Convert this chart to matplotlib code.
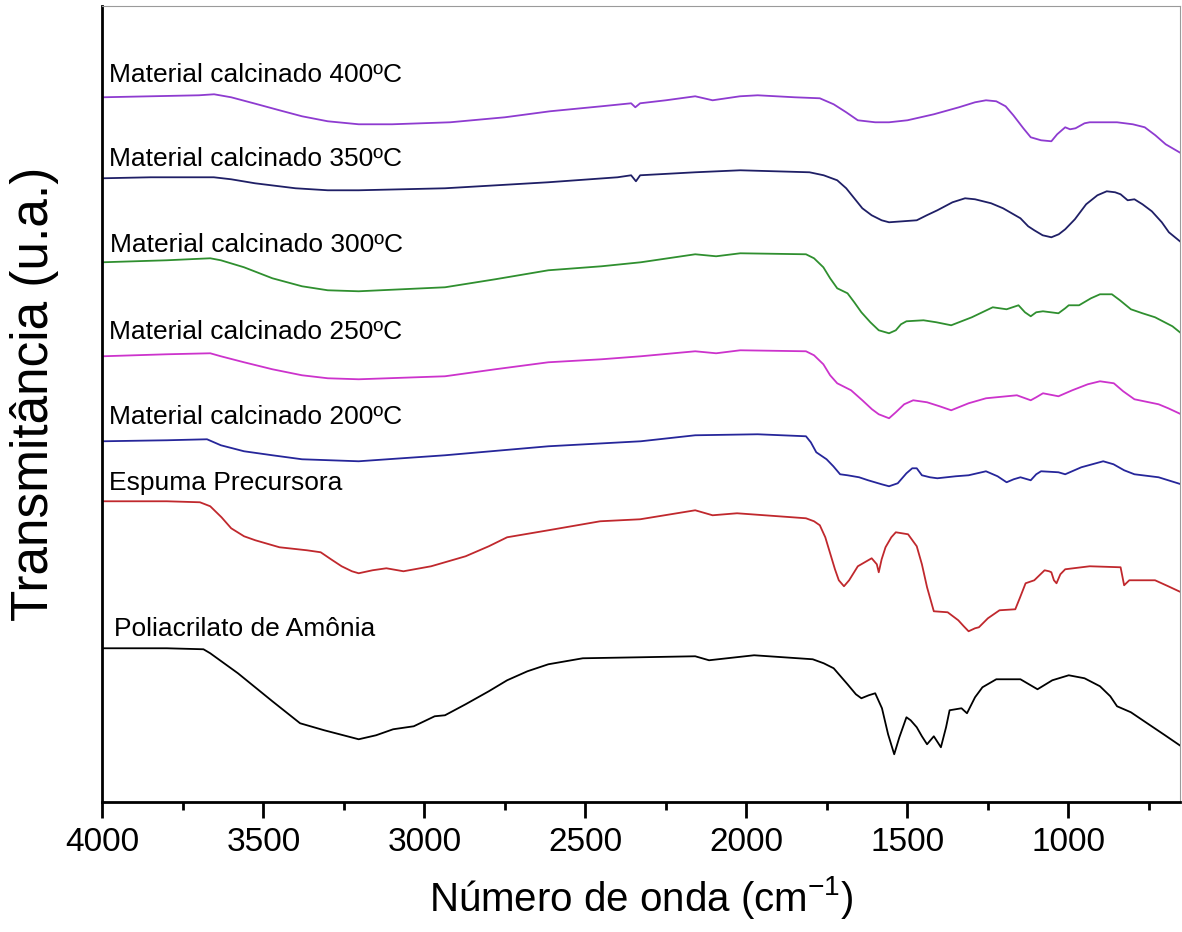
import matplotlib
matplotlib.use("Agg")
import matplotlib.pyplot as plt
from matplotlib.ticker import MultipleLocator

plt.rcParams['font.family'] = ['Liberation Sans', 'DejaVu Sans']
plt.rcParams['mathtext.fontset'] = 'custom'
plt.rcParams['mathtext.rm'] = 'Liberation Sans'
plt.rcParams['mathtext.it'] = 'Liberation Sans:italic'
plt.rcParams['mathtext.bf'] = 'Liberation Sans:bold'

# FTIR spectra, offset vertically (arbitrary transmittance units)
wn_400 = [4000, 3850, 3700, 3653, 3600, 3530, 3450, 3380, 3300, 3204, 3100, 2920, 2750, 2610,
          2450, 2358, 2345, 2330, 2250, 2159, 2105, 2020, 1965, 1850, 1772, 1729, 1690, 1654,
          1600, 1557, 1500, 1418, 1340, 1290, 1256, 1224, 1195, 1171, 1140, 1117, 1085, 1053,
          1035, 1010, 995, 978, 950, 934, 849, 800, 763, 730, 698, 650]
t_400 = [705, 706, 707, 708, 705, 699, 692, 686, 681, 678, 678, 680, 685, 691,
         696, 699, 695, 699, 702, 706, 702, 706, 707, 705, 704, 698, 690, 682,
         680, 680, 682, 688, 695, 700, 702, 701, 696, 687, 674, 665, 662, 661,
         668, 675, 673, 674, 679, 680, 680, 678, 675, 667, 658, 649]

wn_350 = [4000, 3850, 3654, 3600, 3526, 3400, 3300, 3204, 2936, 2616, 2400, 2358, 2343, 2330,
          2159, 2019, 1804, 1760, 1718, 1690, 1665, 1640, 1611, 1580, 1557, 1471, 1440, 1407,
          1360, 1321, 1290, 1240, 1203, 1149, 1125, 1106, 1080, 1053, 1030, 1010, 980, 945,
          910, 881, 855, 838, 816, 795, 770, 741, 710, 688, 650]
t_350 = [624, 625, 625, 623, 619, 614, 612, 612, 614, 620, 625, 627, 621, 627,
         630, 632, 630, 627, 622, 614, 604, 594, 587, 582, 580, 582, 587, 592,
         600, 604, 603, 599, 594, 584, 576, 572, 567, 565, 568, 573, 583, 598,
         607, 611, 610, 608, 602, 603, 598, 591, 580, 570, 560]

wn_300 = [4000, 3800, 3665, 3632, 3560, 3472, 3380, 3300, 3204, 2936, 2780, 2615, 2450, 2328,
          2159, 2094, 2019, 1815, 1790, 1761, 1740, 1718, 1686, 1665, 1643, 1615, 1589, 1557,
          1536, 1520, 1503, 1450, 1410, 1364, 1300, 1235, 1192, 1155, 1135, 1117, 1100, 1079,
          1031, 1010, 999, 967, 930, 902, 865, 840, 806, 770, 731, 677, 650]
t_300 = [540, 542, 544, 542, 535, 524, 516, 512, 511, 515, 523, 532, 536, 540,
         548, 546, 549, 548, 544, 535, 524, 514, 509, 500, 490, 480, 472, 469,
         472, 478, 481, 482, 480, 477, 485, 495, 493, 497, 490, 486, 490, 491,
         489, 494, 497, 497, 504, 508, 508, 502, 493, 489, 485, 476, 469]

wn_250 = [4000, 3800, 3665, 3632, 3560, 3472, 3380, 3300, 3204, 2936, 2780, 2615, 2450, 2328,
          2159, 2094, 2019, 1815, 1790, 1761, 1740, 1718, 1675, 1640, 1610, 1589, 1557, 1536,
          1510, 1482, 1439, 1400, 1364, 1310, 1256, 1160, 1117, 1100, 1079, 1031, 988, 940,
          902, 859, 830, 795, 720, 690, 650]
t_250 = [446, 448, 449, 446, 440, 433, 427, 424, 423, 426, 433, 440, 443, 446,
         451, 449, 452, 451, 447, 438, 427, 419, 412, 402, 393, 388, 384, 390,
         398, 402, 400, 396, 392, 399, 404, 407, 402, 405, 409, 406, 412, 418,
         421, 419, 411, 403, 398, 394, 388]

wn_200 = [4000, 3800, 3675, 3632, 3560, 3472, 3380, 3204, 2936, 2615, 2328, 2159, 1965, 1815,
          1800, 1783, 1751, 1730, 1709, 1686, 1650, 1622, 1580, 1557, 1530, 1503, 1485, 1471,
          1455, 1430, 1407, 1350, 1310, 1256, 1220, 1192, 1170, 1149, 1117, 1100, 1085, 1031,
          1010, 960, 892, 860, 827, 795, 720, 680, 650]
t_200 = [361, 362, 363, 357, 351, 347, 343, 341, 347, 356, 361, 367, 368, 366,
         360, 350, 343, 336, 328, 327, 325, 322, 318, 316, 319, 329, 334, 334,
         327, 325, 324, 326, 327, 331, 326, 320, 323, 325, 322, 328, 331, 330,
         328, 335, 341, 338, 332, 328, 325, 321, 318]

wn_esp = [4000, 3800, 3697, 3665, 3630, 3600, 3560, 3525, 3450, 3365, 3322, 3290, 3257, 3225,
          3204, 3161, 3118, 3065, 2979, 2872, 2800, 2743, 2615, 2454, 2330, 2159, 2105, 2029,
          1815, 1790, 1772, 1755, 1740, 1725, 1713, 1697, 1681, 1654, 1611, 1595, 1589, 1580,
          1568, 1550, 1536, 1498, 1471, 1455, 1439, 1418, 1375, 1342, 1325, 1310, 1290, 1278,
          1250, 1214, 1165, 1150, 1133, 1106, 1074, 1060, 1053, 1045, 1037, 1025, 1010, 934,
          838, 827, 811, 731, 690, 650]
t_esp = [301, 301, 300, 296, 285, 274, 266, 262, 255, 252, 250, 243, 236, 231,
         229, 232, 234, 231, 236, 246, 256, 265, 272, 281, 283, 292, 287, 289,
         284, 281, 277, 265, 249, 233, 222, 216, 222, 236, 244, 238, 230, 243,
         255, 265, 270, 268, 256, 238, 215, 191, 190, 182, 176, 171, 174, 175,
         184, 192, 193, 205, 219, 222, 232, 231, 230, 222, 219, 228, 233, 236,
         235, 217, 222, 222, 216, 210]

wn_pol = [4000, 3800, 3686, 3665, 3579, 3472, 3386, 3311, 3204, 3150, 3097, 3033, 2968, 2936,
          2872, 2800, 2743, 2680, 2615, 2508, 2330, 2159, 2116, 1976, 1794, 1760, 1729, 1686,
          1660, 1643, 1620, 1600, 1579, 1560, 1541, 1525, 1503, 1490, 1471, 1455, 1439, 1418,
          1396, 1380, 1369, 1332, 1315, 1290, 1267, 1224, 1149, 1096, 1050, 999, 950, 902,
          870, 849, 806, 760, 700, 650]
t_pol = [154, 154, 153, 149, 129, 101, 79, 72, 63, 67, 73, 76, 86, 87,
         98, 111, 122, 131, 138, 144, 145, 146, 142, 147, 143, 139, 134, 118,
         108, 104, 107, 109, 94, 68, 48, 65, 85, 82, 75, 66, 58, 66,
         55, 75, 92, 94, 89, 105, 115, 123, 123, 113, 122, 127, 124, 116,
         106, 96, 90, 80, 67, 56]

series = [
    (wn_400, t_400, '#8E3BD0', 'Material calcinado 400ºC'),
    (wn_350, t_350, '#1F1F66', 'Material calcinado 350ºC'),
    (wn_300, t_300, '#2F8F2F', 'Material calcinado 300ºC'),
    (wn_250, t_250, '#CC33CC', 'Material calcinado 250ºC'),
    (wn_200, t_200, '#26269A', 'Material calcinado 200ºC'),
    (wn_esp, t_esp, '#C0282D', 'Espuma Precursora'),
    (wn_pol, t_pol, '#000000', 'Poliacrilato de Amônia'),
]
label_y = [720, 636, 550, 463, 378, 312, 166]
label_x = [3980, 3980, 3975, 3980, 3980, 3980, 3964]

fig = plt.figure(figsize=(11.82, 9.32), dpi=100)
ax = fig.add_axes([0.0866, 0.1392, 0.9113, 0.8547])

for (wn, t, color, name), ly, lx in zip(series, label_y, label_x):
    ax.plot(wn, t, color=color, lw=1.3, solid_joinstyle='round')
    ax.text(lx, ly, name, fontsize=19, ha='left', va='baseline', color='black')

ax.set_xlim(4000, 655)
ax.set_ylim(0, 796.6)

ax.xaxis.set_major_locator(MultipleLocator(500))
ax.xaxis.set_minor_locator(MultipleLocator(250))
ax.tick_params(axis='x', which='major', direction='out', length=11.5, width=2,
               labelsize=24, pad=6)
ax.tick_params(axis='x', which='minor', direction='out', length=5.8, width=2)
ax.tick_params(axis='y', which='both', left=False, labelleft=False)

for side in ('left', 'bottom'):
    ax.spines[side].set_linewidth(2)
    ax.spines[side].set_color('black')
for side in ('top', 'right'):
    ax.spines[side].set_linewidth(0.8)
    ax.spines[side].set_color('#9a9a9a')

ax.set_xlabel('Número de onda (cm$^{-1}$)', fontsize=29, labelpad=12)
ax.set_ylabel('Transmitância (u.a.)', fontsize=37)
ax.yaxis.set_label_coords(-0.040, 0.513)

fig.savefig('out.png', dpi=100)
